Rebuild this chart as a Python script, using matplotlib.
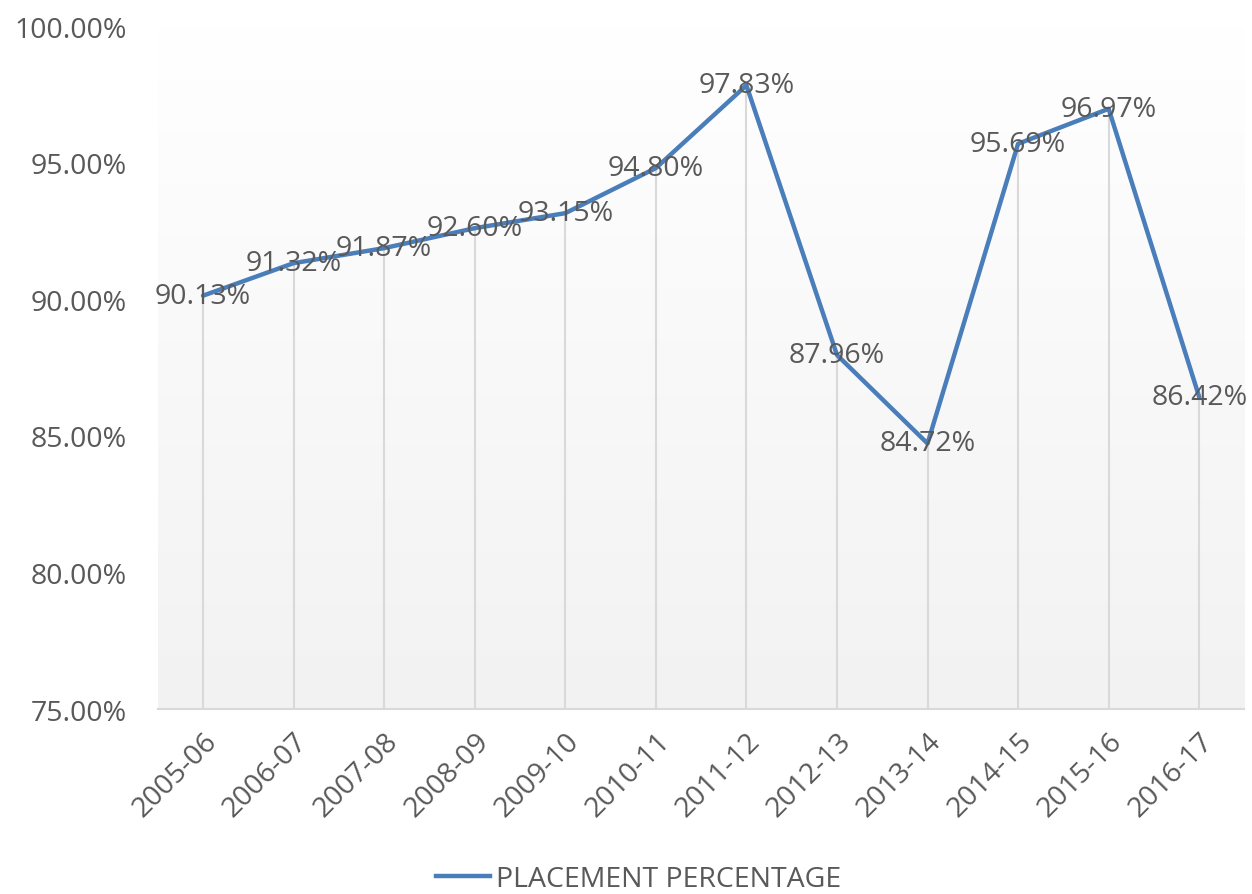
import matplotlib
matplotlib.use("Agg")
import matplotlib.pyplot as plt
import numpy as np
from matplotlib.lines import Line2D
from matplotlib.colors import LinearSegmentedColormap

years = ["2005-06", "2006-07", "2007-08", "2008-09", "2009-10", "2010-11",
         "2011-12", "2012-13", "2013-14", "2014-15", "2015-16", "2016-17"]
placement = [90.13, 91.32, 91.87, 92.60, 93.15, 94.80,
             97.83, 87.96, 84.72, 95.69, 96.97, 86.42]
yticks = [75, 80, 85, 90, 95, 100]
series_name = "PLACEMENT PERCENTAGE"

plt.rcParams['font.family'] = ['Open Sans', 'DejaVu Sans']
TXT = '#595959'
LINE = '#4A7EBB'
FS = 20.5

fig = plt.figure(figsize=(12.52, 8.95), dpi=100)
ax = fig.add_axes([0.126, 0.2067, 0.868, 0.7631])

x = np.arange(len(years))
ax.set_xlim(-0.5, len(years) - 0.5)
ax.set_ylim(75, 100)

# gradient background (light grey at bottom -> white at top)
cmap = LinearSegmentedColormap.from_list('g', ['#F2F2F2', '#FFFFFF'])
ax.imshow(np.linspace(0, 1, 256).reshape(-1, 1),
          extent=[-0.5, len(years) - 0.5, 75, 100],
          aspect='auto', cmap=cmap, origin='lower', zorder=0)

# drop lines
ax.vlines(x, 75, placement, color='#D9D9D9', lw=1.5, zorder=1)

ax.plot(x, placement, color=LINE, lw=3.2, zorder=3, solid_capstyle='round',
        solid_joinstyle='round')

for xi, v in zip(x, placement):
    ax.text(xi, v, f"{v:.2f}%", ha='center', va='center', fontsize=FS,
            color=TXT, zorder=4)

for s in ['top', 'right', 'left']:
    ax.spines[s].set_visible(False)
ax.spines['bottom'].set_color('#D9D9D9')
ax.spines['bottom'].set_linewidth(1.5)

ax.set_yticks(yticks)
ax.set_yticklabels([f"{t:.2f}%" for t in yticks])
ax.set_xticks(x)
ax.set_xticklabels(years, rotation=45, ha='right', va='top', rotation_mode='anchor')
ax.tick_params(axis='both', length=0, labelsize=FS, colors=TXT)
ax.tick_params(axis='x', pad=13)
ax.tick_params(axis='y', pad=22)

handle = Line2D([0], [0], color=LINE, lw=3.2)
fig.legend([handle], [series_name], loc='center', bbox_to_anchor=(0.51, 0.017),
           frameon=False, fontsize=FS, labelcolor=TXT, handlelength=1.9,
           handletextpad=0.2)

fig.savefig("out.png", dpi=100)
